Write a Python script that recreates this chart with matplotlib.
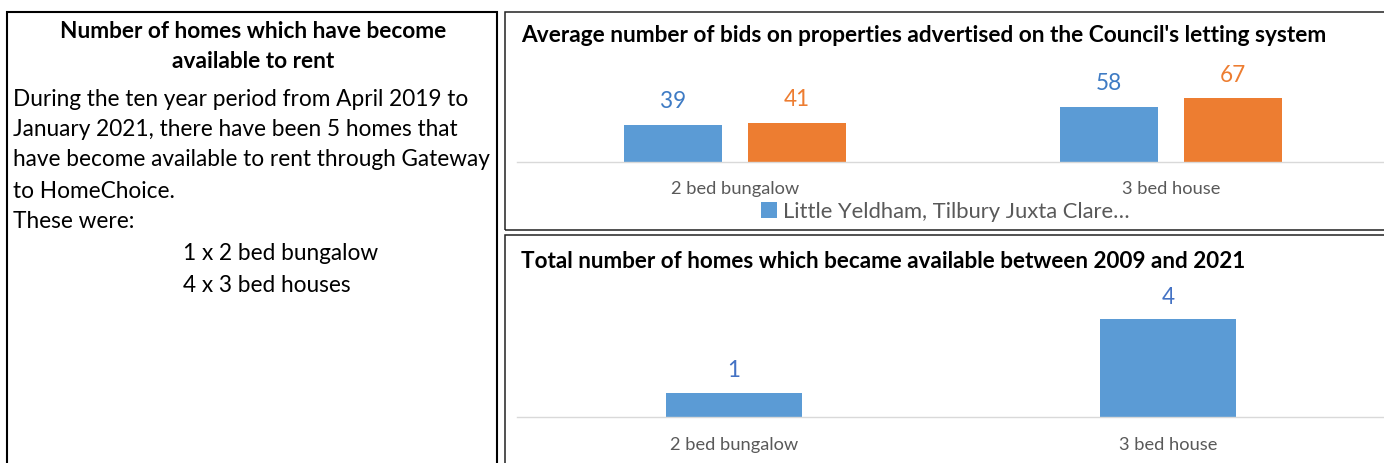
import matplotlib
matplotlib.use('Agg')
import matplotlib.pyplot as plt
from matplotlib.patches import Rectangle

# ---------------- data ----------------
categories = ['2 bed bungalow', '3 bed house']
series_name = 'Little Yeldham, Tilbury Juxta Clare…'
bids_blue = [39, 58]
bids_orange = [41, 67]
homes_total = [1, 4]
chart1_title = "Average number of bids on properties advertised on the Council's letting system"
chart2_title = "Total number of homes which became available between 2009 and 2021"
panel_title = ["Number of homes which have become", "available to rent"]
panel_body = ["During the ten year period from April 2019 to",
              "January 2021, there have been 5 homes that",
              "have become available to rent through Gateway",
              "to HomeChoice.",
              "These were:"]
panel_list = ["1 x 2 bed bungalow", "4 x 3 bed houses"]

# ---------------- style ----------------
BLUE = '#5B9BD5'
ORANGE = '#ED7D31'
LBL_BLUE = '#3E7BC4'
LBL_BLUE2 = '#4472C4'
GREY = '#595959'
AXIS = '#D9D9D9'
plt.rcParams['font.family'] = ['Lato', 'DejaVu Sans']

W, H = 1384, 463
fig = plt.figure(figsize=(W / 100, H / 100), dpi=100)
fig.patch.set_facecolor('white')
renderer = fig.canvas.get_renderer()


def fx(x):
    return x / W


def fy(y):
    return 1 - y / H


def fit_size(s, target, weight='normal', base=12):
    t = fig.text(0, 0, s, fontsize=base, fontweight=weight)
    w = t.get_window_extent(renderer).width
    t.remove()
    return base * target / w


# ---------------- borders ----------------
fig.add_artist(Rectangle((fx(7), fy(475)), fx(497) - fx(7), fy(12) - fy(475),
                         transform=fig.transFigure, fill=False, ec='black', lw=1.5))
fig.add_artist(Rectangle((fx(505), fy(230)), fx(1395) - fx(505), fy(12) - fy(230),
                         transform=fig.transFigure, fill=False, ec='#222222', lw=1.1))
fig.add_artist(Rectangle((fx(505), fy(475)), fx(1395) - fx(505), fy(235) - fy(475),
                         transform=fig.transFigure, fill=False, ec='#222222', lw=1.1))

# ---------------- left text panel ----------------
ts = fit_size(panel_title[0], 385, 'bold')
for s, y in zip(panel_title, [31, 62]):
    fig.text(fx(253), fy(y), s, ha='center', va='center', fontsize=ts,
             fontweight='bold', color='black')
bs = fit_size(panel_body[2], 477)
for s, y in zip(panel_body, [100, 130, 160, 191, 222]):
    fig.text(fx(13), fy(y), s, ha='left', va='center', fontsize=bs, color='black')
for s, y in zip(panel_list, [254, 286]):
    fig.text(fx(183), fy(y), s, ha='left', va='center', fontsize=bs, color='black')

# ---------------- chart 1 ----------------
px1 = 0.955  # pixels per unit
ymax1 = 80
ax1 = fig.add_axes([fx(517), fy(162), (1389 - 517) / W, ymax1 * px1 / H])
x = list(range(len(categories)))
bw1 = 0.225
off1 = 0.142
b1 = ax1.bar([i - off1 for i in x], bids_blue, width=bw1, color=BLUE, label=series_name)
b2 = ax1.bar([i + off1 for i in x], bids_orange, width=bw1, color=ORANGE)
ax1.set_xlim(-0.5, 1.5)
ax1.set_ylim(0, ymax1)
lbs = fit_size('39', 26)
for rect, v in zip(b1, bids_blue):
    ax1.annotate(str(v), (rect.get_x() + rect.get_width() / 2, v), xytext=(0, 23 * 0.72),
                 textcoords='offset points', ha='center', va='center',
                 fontsize=lbs, color=LBL_BLUE, annotation_clip=False)
for rect, v in zip(b2, bids_orange):
    ax1.annotate(str(v), (rect.get_x() + rect.get_width() / 2, v), xytext=(0, 23 * 0.72),
                 textcoords='offset points', ha='center', va='center',
                 fontsize=lbs, color=ORANGE, annotation_clip=False)

tks = fit_size(categories[0], 128)
for ax in []:
    pass


def style_axis(ax):
    for sp in ['top', 'left', 'right']:
        ax.spines[sp].set_visible(False)
    ax.spines['bottom'].set_color(AXIS)
    ax.spines['bottom'].set_linewidth(1.0)
    ax.set_yticks([])
    ax.set_xticks(range(len(categories)))
    ax.set_xticklabels(categories, fontsize=tks, color=GREY)
    ax.tick_params(axis='x', length=0, pad=13.5)
    ax.set_facecolor('none')


style_axis(ax1)
fig.text(fx(521), fy(35), chart1_title, ha='left', va='center',
         fontsize=fit_size(chart1_title, 801, 'bold'), fontweight='bold', color='black')

lgs = fit_size(series_name, 346)
ax1.legend(handles=[b1], labels=[series_name], loc='center',
           bbox_to_anchor=(fx(945), fy(212)), bbox_transform=fig.transFigure,
           frameon=False, fontsize=lgs, labelcolor=GREY, handlelength=0.75,
           handleheight=0.75, handletextpad=0.25, borderpad=0, borderaxespad=0)

# ---------------- chart 2 ----------------
px2 = 24.5
ymax2 = 5
ax2 = fig.add_axes([fx(517), fy(417), (1385 - 517) / W, ymax2 * px2 / H])
b3 = ax2.bar(x, homes_total, width=0.313, color=BLUE)
ax2.set_xlim(-0.5, 1.5)
ax2.set_ylim(0, ymax2)
for rect, v in zip(b3, homes_total):
    ax2.annotate(str(v), (rect.get_x() + rect.get_width() / 2, v), xytext=(0, 22 * 0.72),
                 textcoords='offset points', ha='center', va='center',
                 fontsize=lbs, color=LBL_BLUE2, annotation_clip=False)
style_axis(ax2)
ax2.tick_params(axis='x', pad=14.5)
fig.text(fx(521), fy(262), chart2_title, ha='left', va='center',
         fontsize=fit_size(chart2_title, 723, 'bold'), fontweight='bold', color='black')

fig.savefig('out.png', dpi=100, facecolor='white')
